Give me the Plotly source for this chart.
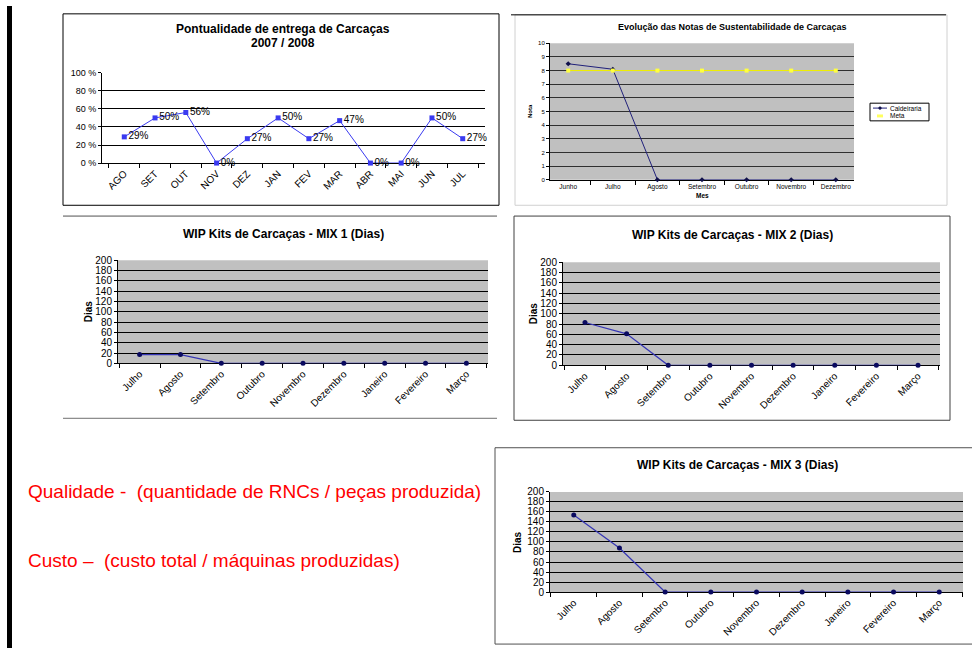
import plotly.graph_objects as go

W, H = 972, 654

# ---------------- data ----------------
pont_meses = ["AGO", "SET", "OUT", "NOV", "DEZ", "JAN", "FEV", "MAR", "ABR", "MAI", "JUN", "JUL"]
pont_valores = [29, 50, 56, 0, 27, 50, 27, 47, 0, 0, 50, 27]
pont_ticks = [0, 20, 40, 60, 80, 100]
pont_ticktext = ["0 %", "20 %", "40 %", "60 %", "80 %", "100 %"]

sust_meses = ["Junho", "Julho", "Agosto", "Setembro", "Outubro", "Novembro", "Dezembro"]
sust_caldeiraria = [8.5, 8.1, 0, 0, 0, 0, 0]
sust_meta = [8, 8, 8, 8, 8, 8, 8]
sust_series = ["Caldeiraria", "Meta"]

wip_meses = ["Julho", "Agosto", "Setembro", "Outubro", "Novembro", "Dezembro", "Janeiro", "Fevereiro", "Março"]
wip_mix1 = [17, 17, 0, 0, 0, 0, 0, 0, 0]
wip_mix2 = [83, 61, 0, 0, 0, 0, 0, 0, 0]
wip_mix3 = [154, 88, 0, 0, 0, 0, 0, 0, 0]

FONT = "Arial, Liberation Sans, sans-serif"
CALD_COLOR = "#20207a"
META_COLOR = "#ffff00"


def fx(px):
    return px / W


def fy(py):
    return 1 - py / H


fig = go.Figure()

# ---------- chart 1: Pontualidade ----------
fig.add_trace(go.Scatter(
    x=pont_meses, y=pont_valores, mode="lines+markers+text",
    text=[f"{v}%" for v in pont_valores], textposition="middle right",
    textfont=dict(size=10, color="#000", family=FONT),
    line=dict(color="#3a3af0", width=1),
    marker=dict(symbol="square", size=5, color="#3a3af0"),
    cliponaxis=False, showlegend=False, xaxis="x", yaxis="y"))

# ---------- chart 2: Sustentabilidade ----------
fig.add_trace(go.Scatter(
    x=sust_meses, y=sust_caldeiraria, mode="lines+markers", name=sust_series[0],
    line=dict(color=CALD_COLOR, width=1), marker=dict(symbol="diamond", size=4, color="#10104a"),
    cliponaxis=False, showlegend=False, xaxis="x2", yaxis="y2"))
fig.add_trace(go.Scatter(
    x=sust_meses, y=sust_meta, mode="lines+markers", name=sust_series[1],
    line=dict(color=META_COLOR, width=1), marker=dict(symbol="square", size=4, color="#ffff40"),
    cliponaxis=False, showlegend=False, xaxis="x2", yaxis="y2"))

# ---------- WIP charts ----------
for vals, ax in [(wip_mix1, "3"), (wip_mix2, "4"), (wip_mix3, "5")]:
    fig.add_trace(go.Scatter(
        x=wip_meses, y=vals, mode="lines+markers",
        line=dict(color="#3535b5", width=1.2),
        marker=dict(symbol="circle", size=5, color="#0a0a60"),
        cliponaxis=False, showlegend=False, xaxis="x" + ax, yaxis="y" + ax))


def xax(x0, x1, anchor, size, angle):
    return dict(domain=[fx(x0), fx(x1)], anchor=anchor, type="category",
                showline=True, linecolor="#000", linewidth=1, showgrid=False,
                ticks="outside", ticklen=4, tickcolor="#000", tickson="boundaries",
                tickangle=angle, tickfont=dict(size=size, family=FONT, color="#000"),
                layer="below traces", fixedrange=True, zeroline=False)


def yax(y0, y1, anchor, rng, dtick, size, grid="#000", **kw):
    d = dict(domain=[fy(y1), fy(y0)], anchor=anchor, range=rng, dtick=dtick,
             showline=True, linecolor="#000", linewidth=1, showgrid=True,
             gridcolor=grid, gridwidth=1, ticks="outside", ticklen=3, tickcolor="#000",
             tickfont=dict(size=size, family=FONT, color="#000"),
             layer="below traces", fixedrange=True, zeroline=False)
    d.update(kw)
    return d


fig.update_layout(
    width=W, height=H, margin=dict(l=0, r=0, t=0, b=0),
    paper_bgcolor="white", plot_bgcolor="rgba(0,0,0,0)",
    font=dict(family=FONT, color="#000"), showlegend=False,
    xaxis=xax(102, 485, "y", 10, -45),
    yaxis=yax(68, 160, "x", [0, 100], 20, 9, tickvals=pont_ticks, ticktext=pont_ticktext),
    xaxis2=xax(550, 854, "y2", 6.5, 0),
    yaxis2=yax(38, 177, "x2", [0, 10], 1, 6, grid="#303030"),
    xaxis3=xax(118, 488, "y3", 10, -45),
    yaxis3=yax(259, 364, "x3", [0, 200], 20, 10),
    xaxis4=xax(563, 940, "y4", 10, -45),
    yaxis4=yax(261, 366, "x4", [0, 200], 20, 10),
    xaxis5=xax(550, 963, "y5", 10, -45),
    yaxis5=yax(495, 597, "x5", [0, 200], 20, 10),
)

shapes = []
# gray plot backgrounds
for ax in ["2", "3", "4", "5"]:
    shapes.append(dict(type="rect", xref=f"x{ax} domain", yref=f"y{ax} domain",
                       x0=0, x1=1, y0=0, y1=1, fillcolor="#c0c0c0",
                       line=dict(width=0), layer="below"))


def prect(x0, y0, x1, y1, color, width=1, fill="rgba(0,0,0,0)"):
    return dict(type="rect", xref="paper", yref="paper",
                x0=fx(x0), x1=fx(x1), y0=fy(y1), y1=fy(y0),
                line=dict(color=color, width=width), fillcolor=fill, layer="above")


def pline(x0, y0, x1, y1, color, width=1):
    return dict(type="line", xref="paper", yref="paper",
                x0=fx(x0), x1=fx(x1), y0=fy(y0), y1=fy(y1),
                line=dict(color=color, width=width), layer="above")


# left black bar
shapes.append(dict(type="rect", xref="paper", yref="paper", x0=fx(7), x1=fx(12), y0=0, y1=1,
                   fillcolor="#000", line=dict(width=0), layer="above"))
# chart frames
shapes.append(prect(63, 8, 499, 203, "#000"))
shapes.append(prect(515, 9, 947, 203, "#d0d0d0"))
shapes.append(pline(511, 9, 946, 9, "#000"))
shapes.append(pline(63, 214, 497, 214, "#505050"))
shapes.append(pline(63, 420, 497, 420, "#707070"))
shapes.append(prect(514, 214, 950, 422, "#404040"))
shapes.append(prect(495, 450, 980, 650, "#505050"))

# small legend of chart 2
shapes.append(prect(870, 99, 929, 117, "#000", fill="white"))
shapes.append(pline(873, 104, 887, 104, CALD_COLOR))
shapes.append(prect(879, 103, 881, 105, "#10104a", fill="#10104a"))
shapes.append(prect(877, 110.5, 883, 113.5, "#ffff60", width=0, fill="#ffff60"))
fig.update_layout(shapes=shapes)

ann = []


def text(x, y, s, size, bold=False, color="#000", angle=0, xanchor="center"):
    ann.append(dict(x=fx(x), y=fy(y), xref="paper", yref="paper", showarrow=False,
                    text=f"<b>{s}</b>" if bold else s, textangle=angle,
                    xanchor=xanchor, yanchor="middle", borderpad=0,
                    font=dict(size=size, family=FONT, color=color)))


text(283, 23, "Pontualidade de entrega de Carcaças", 12, True)
text(283, 38, "2007 / 2008", 12, True)
text(732, 21, "Evolução das Notas de Sustentabilidade de Carcaças", 9, True)
text(530, 107, "Nota", 6, True, angle=-90)
text(702, 193, "Mes", 6.5, True)
text(283, 232, "WIP Kits de Carcaças - MIX 1 (Dias)", 12, True)
text(88, 311, "Dias", 10, True, angle=-90)
text(732, 233, "WIP Kits de Carcaças - MIX 2 (Dias)", 12, True)
text(533, 313, "Dias", 10, True, angle=-90)
text(737, 468, "WIP Kits de Carcaças - MIX 3 (Dias)", 12, True)
text(518, 546, "Dias", 10, True, angle=-90)
text(889, 104, sust_series[0], 6.5, xanchor="left")
text(889, 112, sust_series[1], 6.5, xanchor="left")
text(27, 495, "Qualidade -  (quantidade de RNCs / peças produzida)", 19, color="#ff0000", xanchor="left")
text(27, 565, "Custo –  (custo total / máquinas produzidas)", 19, color="#ff0000", xanchor="left")
fig.update_layout(annotations=ann)

fig.write_html("out.html", config={"displayModeBar": False},
               post_script="document.body.style.margin='0px';")
